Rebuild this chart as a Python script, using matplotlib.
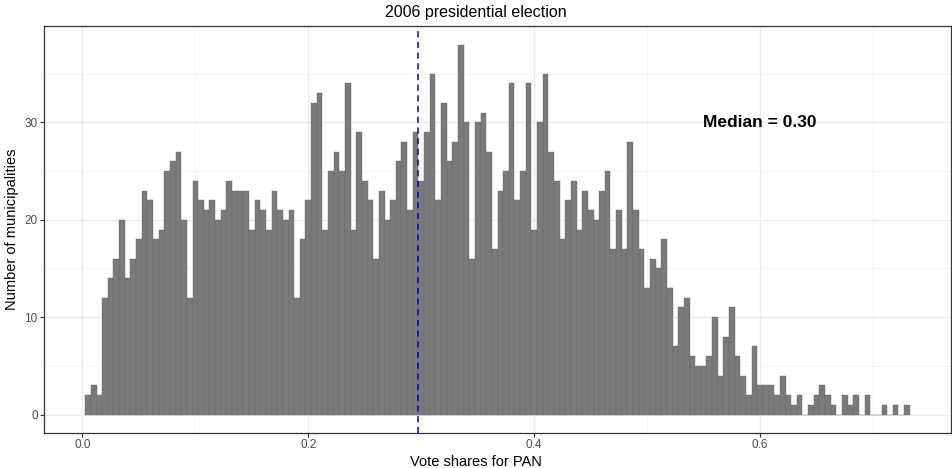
import numpy as np
import matplotlib
matplotlib.use("Agg")
import matplotlib.pyplot as plt

# histogram of PAN vote shares, bins of width 0.005 (centres 0.005 ... 0.730)
BIN_WIDTH = 0.005
counts = [
    2, 3, 2, 12, 14, 16, 20, 14, 16, 18, 23, 22, 18, 19, 25, 26, 27, 20, 12, 24,
    22, 21, 22, 20, 21, 24, 23, 23, 23, 19, 22, 21, 19, 23, 21, 20, 21, 12, 18, 22,
    32, 33, 19, 25, 27, 25, 34, 19, 29, 24, 22, 16, 23, 20, 22, 26, 28, 21, 29, 24,
    29, 35, 22, 32, 26, 28, 38, 30, 16, 30, 31, 27, 17, 23, 25, 34, 22, 25, 34, 19,
    30, 35, 27, 24, 18, 22, 24, 19, 23, 21, 20, 23, 25, 17, 21, 17, 28, 21, 17, 13,
    16, 15, 18, 13, 7, 11, 12, 6, 5, 5, 6, 10, 4, 8, 11, 6, 4, 2, 7, 3,
    3, 3, 2, 4, 2, 1, 2, 0, 1, 2, 3, 2, 1, 0, 2, 1, 2, 0, 2, 0,
    0, 1, 0, 1, 0, 1,
]
centres = BIN_WIDTH * (np.arange(len(counts)) + 1)
median_share = 0.2975
median_label = "Median = 0.30"
x_ticks = [0.0, 0.2, 0.4, 0.6]
y_ticks = [0, 10, 20, 30]

plt.rcParams["font.family"] = ["Liberation Sans", "DejaVu Sans"]

W, H = 952, 468
fig = plt.figure(figsize=(W / 100, H / 100), dpi=100)
ax = fig.add_axes([44 / W, 1 - 433 / H, 907 / W, 407 / H])

ax.bar(centres, counts, width=BIN_WIDTH, color="#7a7a7a", edgecolor="#6a6a6a",
       linewidth=0.3, zorder=2)
ax.axvline(median_share, color="#0000cc", linestyle=(0, (4, 3)), lw=1.1, zorder=3)
ax.text(0.6, 30, median_label, fontsize=12.5, fontweight="bold", ha="center",
        va="center", color="black", zorder=4)

# theme_bw look
lo, hi = centres[0] - BIN_WIDTH / 2, centres[-1] + BIN_WIDTH / 2
pad = (hi - lo) * 0.05
ax.set_xlim(lo - pad, hi + pad)
ymax = max(counts)
ax.set_ylim(-ymax * 0.05, ymax * 1.05)
ax.set_xticks(x_ticks)
ax.set_xticklabels([f"{t:.1f}" for t in x_ticks])
ax.set_yticks(y_ticks)
ax.set_xticks([0.1, 0.3, 0.5, 0.7], minor=True)
ax.set_yticks([5, 15, 25, 35], minor=True)
ax.grid(which="major", color="#ebebeb", lw=1.0, zorder=0)
ax.grid(which="minor", color="#f3f3f3", lw=0.6, zorder=0)
ax.tick_params(which="major", length=3, width=0.8, color="#333333",
               labelsize=8.5, labelcolor="#4d4d4d", pad=1.5)
ax.tick_params(which="minor", length=0)
for s in ax.spines.values():
    s.set_color("#333333")
    s.set_linewidth(0.9)

fig.text(476 / W, 1 - 462 / H, "Vote shares for PAN", fontsize=10.5,
         ha="center", va="center")
fig.text(12 / W, 1 - 229 / H, "Number of municipalities", fontsize=10.5,
         ha="center", va="center", rotation=90)
fig.text(476 / W, 1 - 12 / H, "2006 presidential election", fontsize=11.5,
         ha="center", va="center")

fig.savefig("out.png", dpi=100)
